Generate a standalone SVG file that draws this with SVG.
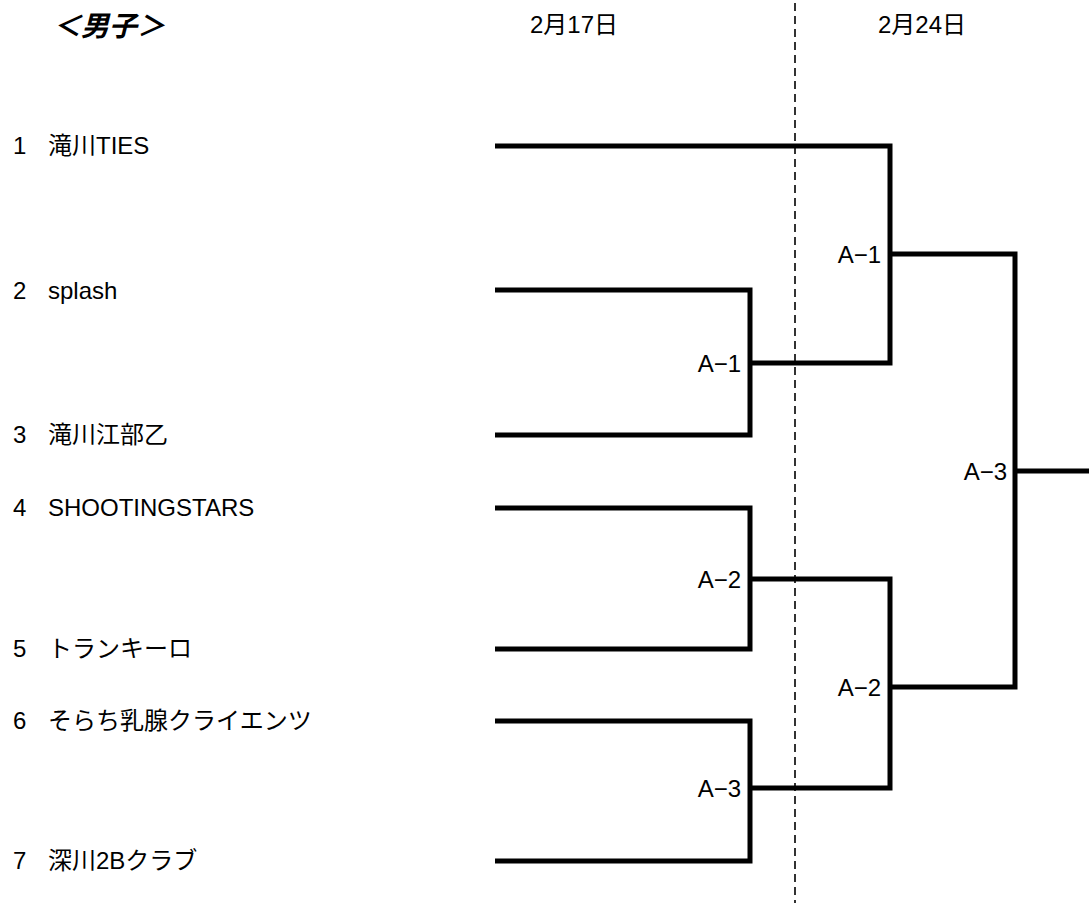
<svg xmlns="http://www.w3.org/2000/svg" width="1089" height="903" viewBox="0 0 1089 903">
<style>
text{font-family:"Liberation Sans","Noto Sans CJK JP",sans-serif;font-size:24px;fill:#000}
.title{font-size:28px;font-weight:bold;font-style:italic}
.lbl{text-anchor:end}
.br{fill:none;stroke:#000;stroke-width:5;stroke-linejoin:miter;stroke-linecap:butt}
.dash{fill:none;stroke:#000;stroke-width:1.6;stroke-dasharray:8 5}
</style>
<rect width="1089" height="903" fill="#fff"/>
<g id="header">
<text class="title" x="53" y="36">＜男子＞</text>
<text x="530" y="33">2月17日</text>
<text x="878" y="33">2月24日</text>
</g>
<g id="connectors">
<line class="dash" x1="795" y1="3" x2="795" y2="903"/>
<path class="br" d="M495,146 H890 V363 H750"/>
<path class="br" d="M495,290 H750 V435 H495"/>
<path class="br" d="M495,508 H750 V649 H495"/>
<path class="br" d="M495,721 H750 V861 H495"/>
<path class="br" d="M750,579 H890 V788 H750"/>
<path class="br" d="M890,254 H1015 V687 H890"/>
<path class="br" d="M1015,471 H1089"/>
</g>
<g id="team1"><text x="13" y="154">1</text><text x="48" y="154">滝川TIES</text></g>
<g id="team2"><text x="13" y="299">2</text><text x="48" y="299">splash</text></g>
<g id="team3"><text x="13" y="443">3</text><text x="48" y="443">滝川江部乙</text></g>
<g id="team4"><text x="13" y="516">4</text><text x="48" y="516">SHOOTINGSTARS</text></g>
<g id="team5"><text x="13" y="657">5</text><text x="48" y="657">トランキーロ</text></g>
<g id="team6"><text x="13" y="729">6</text><text x="48" y="729">そらち乳腺クライエンツ</text></g>
<g id="team7"><text x="13" y="869">7</text><text x="48" y="869">深川2Bクラブ</text></g>
<g id="m1-A1"><text class="lbl" x="741" y="372">A−1</text></g>
<g id="m1-A2"><text class="lbl" x="741" y="588">A−2</text></g>
<g id="m1-A3"><text class="lbl" x="741" y="797">A−3</text></g>
<g id="m2-A1"><text class="lbl" x="881" y="263">A−1</text></g>
<g id="m2-A2"><text class="lbl" x="881" y="696">A−2</text></g>
<g id="m3-A3"><text class="lbl" x="1007" y="480">A−3</text></g>
</svg>
